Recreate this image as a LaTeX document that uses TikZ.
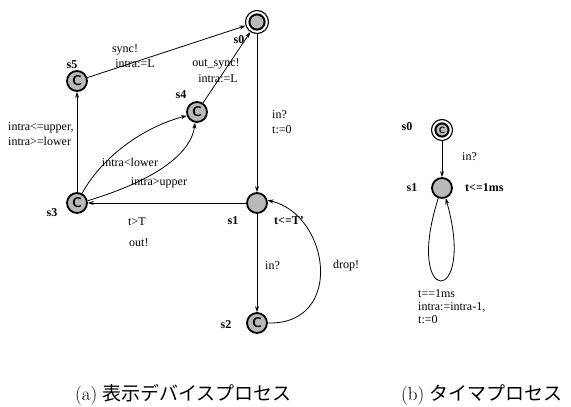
\documentclass[tikz,border=0pt]{standalone}
\usepackage{fontspec}
\setmainfont{Liberation Serif}
\newfontfamily\jpfont{Noto Sans CJK JP}
\newfontfamily\capfont{Latin Modern Roman}
\usetikzlibrary{arrows.meta}
\begin{document}
\begin{tikzpicture}[x=1pt,y=-1pt,
  loc/.style={circle,draw,line width=1.8pt,fill=gray!55,minimum size=20pt,inner sep=0pt},
  committed/.style={loc,font=\fontsize{14}{14}\sffamily\bfseries},
  initloc/.style={circle,draw,fill=white,inner sep=0pt,line width=1.1pt,minimum size=#1,
    path picture={\draw[line width=2pt,fill=gray!55]
      (path picture bounding box.center) circle ({#1/2-3.9pt});}},
  locname/.style={inner sep=0pt,font=\fontsize{12}{13}\selectfont\bfseries},
  guard/.style={inner sep=0pt,anchor=west,font=\fontsize{12}{13}\selectfont},
  ctext/.style={inner sep=0pt,font=\fontsize{12}{13}\selectfont},
  trans/.style={line width=0.8pt,-{Stealth[length=6pt,width=4pt]}},
  captext/.style={inner sep=0pt,anchor=west,font=\fontsize{19}{20}\selectfont}
]
\useasboundingbox (0,0) rectangle (571,407);

% ---------- (a) display device process ----------
\node[initloc=23pt] (a0) at (257,22)  {};
\node[committed] (a5) at (77,81)   {C};
\node[committed] (a4) at (197,112) {C};
\node[committed] (a3) at (77,203)  {C};
\node[loc]       (a1) at (257,203) {};
\node[committed] (a2) at (257,323) {C};

\node[locname] (n0) at (239,40)  {s0};
\node[locname] (n5) at (72,65)   {s5};
\node[locname] (n4) at (181,95)  {s4};
\node[locname] (n3) at (52,213)  {s3};
\node[locname] (n1) at (233,221) {s1};
\node[locname] (inv1) at (289,221) {t<=T'};
\node[locname] (n2) at (226,325) {s2};

\draw[trans] (a5) -- (a0);
\draw[trans] (a4) -- (a0);
\draw[trans] (a3) -- (a5);
\draw[trans] (a3.62) .. controls (100,160) and (140,128) .. (a4.200);
\draw[trans] (a3.12) .. controls (140,185) and (190,160) .. (a4.260);
\draw[trans] (a0) -- (a1);
\draw[trans] (a1) -- (a3);
\draw[trans] (a1) -- (a2);
\draw[trans] (a2.east) .. controls (345,325) and (330,215) .. (a1.15);

\node[ctext] (l1) at (125,50) {sync!};
\node[ctext] (l2) at (135,64) {intra:=L};
\node[ctext] (l3) at (216,64) {out\_sync!};
\node[ctext] (l4) at (218,79) {intra:=L};
\node[guard] (l5) at (272,115) {in?};
\node[guard] (l6) at (272,130) {t:=0};
\node[guard] (l7) at (8,128) {intra<=upper,};
\node[guard] (l8) at (8,141) {intra>=lower};
\node[ctext] (l9) at (130,162) {intra<lower};
\node[ctext] (l10) at (159,183) {intra>upper};
\node[guard] (l11) at (128,222) {t>T};
\node[guard] (l12) at (129,243) {out!};
\node[guard] (l13) at (265,266) {in?};
\node[guard] (l14) at (333,266) {drop!};

% ---------- (b) timer process ----------
\node[initloc=21pt,font=\fontsize{9}{9}\sffamily\bfseries] (b0) at (442,130) {C};
\node[loc] (b1) at (442,188) {};

\node[locname] (m0) at (407,127) {s0};
\node[locname] (m1) at (412,188) {s1};
\node[guard,font=\fontsize{12}{13}\selectfont\bfseries] (inv2) at (465,188) {t<=1ms};
\node[guard] (k1) at (462,157) {in?};

\draw[trans] (b0) -- (b1);
\draw[trans] (b1.250) .. controls (403,308) and (477,308) .. (b1.290);

\node[guard] (k2) at (418,294) {t==1ms};
\node[guard] (k3) at (418,307) {intra:=intra-1,};
\node[guard] (k4) at (418,320) {t:=0};

% ---------- captions ----------
\node[captext] (capa) at (75,395) {{\capfont (a)} {\jpfont 表示デバイスプロセス}};
\node[captext] (capb) at (401,395) {{\capfont (b)} {\jpfont タイマプロセス}};
\end{tikzpicture}
\end{document}
